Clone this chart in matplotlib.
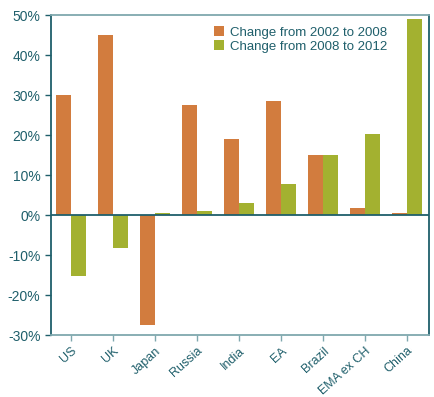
import numpy as np
import matplotlib.pyplot as plt
from matplotlib.ticker import FuncFormatter

# Data
countries = ['US', 'UK', 'Japan', 'Russia', 'India', 'EA', 'Brazil', 'EMA ex CH', 'China']
change_02_08 = [30.0, 45.0, -27.5, 27.5, 19.0, 28.5, 15.0, 1.8, 0.4]
change_08_12 = [-15.3, -8.3, 0.4, 1.0, 3.0, 7.8, 15.0, 20.3, 49.0]

orange = '#D27C3E'
green = '#A3B130'
teal = '#1F5F6B'
light = '#7FA8AE'

plt.rcParams['font.family'] = ['Liberation Sans', 'DejaVu Sans']

fig = plt.figure(figsize=(4.35, 3.97), dpi=100)
ax = fig.add_axes([0.117, 0.156, 0.869, 0.806])

x = np.arange(len(countries))
w = 0.35
ax.bar(x - w / 2, change_02_08, w, color=orange, label='Change from 2002 to 2008')
ax.bar(x + w / 2, change_08_12, w, color=green, label='Change from 2008 to 2012')

ax.set_xlim(-0.48, 8.52)
ax.set_ylim(-30, 50)
ax.set_yticks(range(-30, 51, 10))
ax.yaxis.set_major_formatter(FuncFormatter(lambda v, p: f'{v:.0f}%'))
ax.set_xticks(x)
ax.set_xticklabels(countries, rotation=42, ha='right', rotation_mode='anchor')

ax.axhline(0, color=teal, lw=1.3)
ax.spines['left'].set_color(teal)
ax.spines['right'].set_color(teal)
ax.spines['top'].set_color(light)
ax.spines['bottom'].set_color(light)
for s in ax.spines.values():
    s.set_linewidth(1.3)

ax.tick_params(axis='y', colors=teal, labelsize=10, length=4, width=1)
ax.tick_params(axis='x', colors=light, labelcolor=teal, labelsize=9,
               length=4, width=1, pad=3)

leg = ax.legend(loc='upper right', bbox_to_anchor=(0.91, 0.99), frameon=False,
                fontsize=9.5, handlelength=0.8, handleheight=0.8,
                handletextpad=0.4, labelspacing=0.1, borderaxespad=0.2)
for t in leg.get_texts():
    t.set_color(teal)

plt.savefig('out.png')
